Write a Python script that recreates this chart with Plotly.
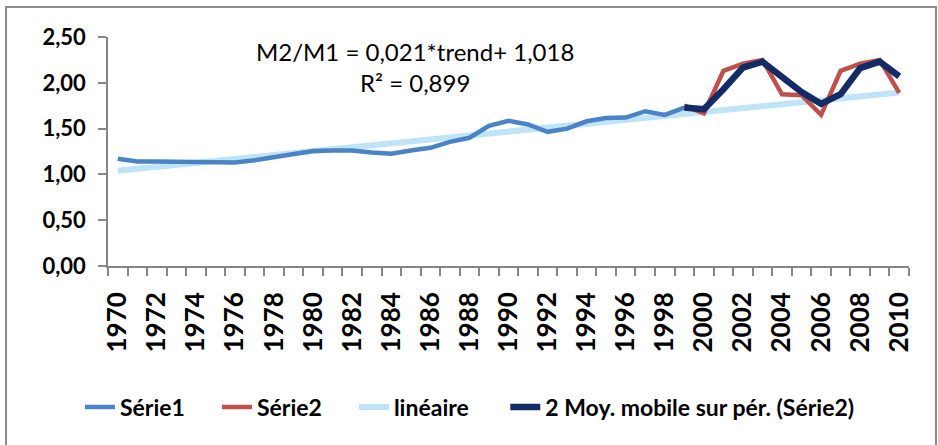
import plotly.graph_objects as go

# values
years_s1 = list(range(1970, 2000))
serie1 = [1.17, 1.14, 1.14, 1.14, 1.135, 1.13, 1.13, 1.155, 1.185, 1.22,
          1.255, 1.26, 1.26, 1.24, 1.225, 1.26, 1.29, 1.355, 1.40, 1.53,
          1.585, 1.545, 1.465, 1.50, 1.58, 1.615, 1.62, 1.69, 1.65, 1.73]

years_s2 = list(range(1999, 2011))
serie2 = [1.75, 1.665, 2.13, 2.21, 2.25, 1.875, 1.865, 1.65, 2.13, 2.21, 2.25, 1.89]

years_ma = list(range(1999, 2011))
moy_mobile = [1.73, 1.71, 1.93, 2.165, 2.23, 2.07, 1.90, 1.77, 1.875, 2.16, 2.23, 2.07]

trend_years = [1970, 2010]
trend_values = [1.04, 1.895]

ytick_vals = [0, 0.5, 1.0, 1.5, 2.0, 2.5]
ytick_text = ["0,00", "0,50", "1,00", "1,50", "2,00", "2,50"]
xtick_vals = list(range(1970, 2011, 2))

FONT = "Lato"
LEGEND_FONT = dict(family=FONT, size=23, color="#000000", weight="bold")

fig = go.Figure()

fig.add_trace(go.Scatter(
    x=trend_years, y=trend_values, mode="lines", name="linéaire",
    line=dict(color="#c0e4f7", width=6), legend="legend3",
))
fig.add_trace(go.Scatter(
    x=years_s1, y=serie1, mode="lines", name="Série1",
    line=dict(color="#4a84c6", width=4.5), legend="legend",
))
fig.add_trace(go.Scatter(
    x=years_s2, y=serie2, mode="lines", name="Série2",
    line=dict(color="#c0504d", width=4.5), legend="legend2",
))
fig.add_trace(go.Scatter(
    x=years_ma, y=moy_mobile, mode="lines", name="2 Moy. mobile sur pér. (Série2)",
    line=dict(color="#132c66", width=6.5), legend="legend4",
))

fig.add_annotation(
    x=0.383, y=0.869, xref="paper", yref="paper", yanchor="middle",
    text="M2/M1 = 0,021*trend+ 1,018<br>R² = 0,899",
    showarrow=False, align="center",
    font=dict(family=FONT, size=24, color="#000000"),
)

# chart area border
fig.add_shape(
    type="rect", xref="paper", yref="paper",
    x0=-0.1273, x1=1.0337, y0=-0.85, y1=1.131,
    line=dict(color="#8c8c8c", width=2), layer="below",
)


def legend_at(x):
    return dict(orientation="h", x=x, xanchor="left", y=-0.616, yanchor="middle",
                font=LEGEND_FONT, bgcolor="rgba(0,0,0,0)", itemwidth=30)


fig.update_layout(
    width=938, height=445,
    margin=dict(l=108, r=29, t=37, b=179),
    paper_bgcolor="white", plot_bgcolor="white",
    font=dict(family=FONT, color="#000000"),
    showlegend=True,
    legend=legend_at(-0.035),
    legend2=legend_at(0.136),
    legend3=legend_at(0.307),
    legend4=legend_at(0.496),
    xaxis=dict(
        range=[1969.5, 2010.5],
        tickvals=xtick_vals, ticktext=[str(v) for v in xtick_vals],
        tickangle=-90, ticks="", ticklabelstandoff=14,
        tickfont=dict(family=FONT, size=26, weight="bold"),
        showline=True, linecolor="#868686", linewidth=1.5,
        showgrid=False, zeroline=False,
        minor=dict(tickvals=[y + 0.5 for y in range(1969, 2011)],
                   ticks="outside", ticklen=8, tickcolor="#868686", tickwidth=1.5),
    ),
    yaxis=dict(
        range=[0, 2.5],
        tickvals=ytick_vals, ticktext=ytick_text,
        ticks="outside", ticklen=8, tickcolor="#868686", tickwidth=1.5,
        ticklabelstandoff=8,
        tickfont=dict(family=FONT, size=22, weight="bold"),
        showline=True, linecolor="#868686", linewidth=1.5,
        showgrid=False, zeroline=False,
    ),
)

# the page body has a default 8px margin; drop it so the chart sits at the window corner
fig.write_html(
    "out.html",
    config={"displayModeBar": False},
    post_script="document.body.style.margin='0';",
)
